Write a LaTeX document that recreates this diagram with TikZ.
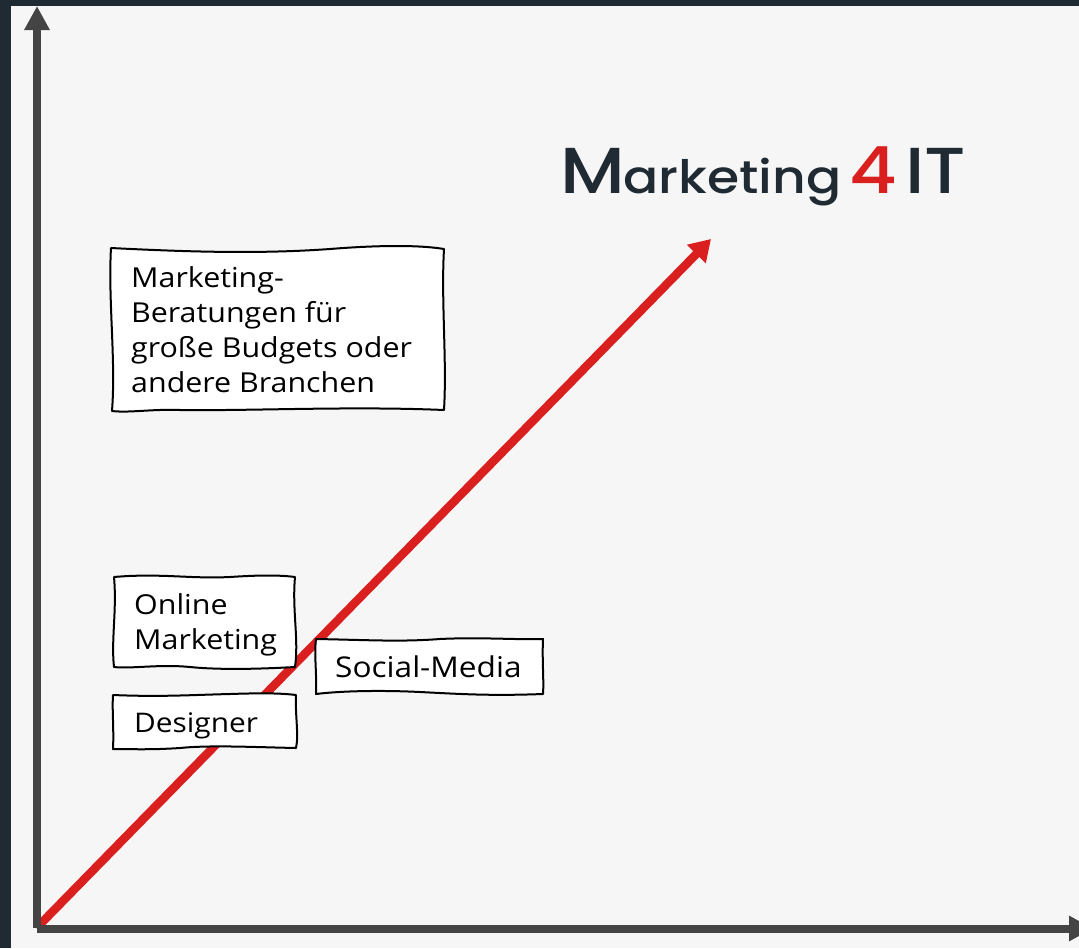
\documentclass[tikz,border=0pt]{standalone}
\usepackage{fontspec}
\setmainfont{Open Sans}[FakeStretch=1.105]
\newfontfamily\logofont{Poppins}[UprightFont=* Medium,FakeStretch=1.13]
\usetikzlibrary{arrows.meta}
\definecolor{frame}{HTML}{1F2A33}
\definecolor{paper}{HTML}{F6F6F6}
\definecolor{axis}{HTML}{444444}
\definecolor{brand}{HTML}{DA1F1F}
\tikzset{
  x=1pt,y=-1pt,
  axisline/.style={draw=axis,line width=8pt,-{Triangle[length=24pt,width=24pt]}},
  growth/.style={draw=brand,line width=8.5pt,-{Triangle[length=21pt,width=25pt]}},
  sketchbox/.style={draw=black,fill=white,line width=2pt,line join=round},
  label/.style={anchor=west,inner sep=0pt,align=left,font=\fontsize{27.5}{35}\selectfont,text=black},
  logo/.style={anchor=base west,inner sep=0pt,text=frame},
}
\begin{document}
\begin{tikzpicture}
\useasboundingbox (0,0) rectangle (1079,948);
\clip (0,0) rectangle (1079,948);
\fill[frame] (0,0) rectangle (1079,948);
\fill[paper] (11,6) rectangle (1079,948);
\coordinate (origin) at (37,928.5);
\coordinate (ytip) at (37,6);
\coordinate (xtip) at (1093,928.5);
\coordinate (gstart) at (36.5,928);
\coordinate (gtip) at (711,239);
\path[growth] (gstart) -- (gtip);
\path[axisline] ([yshift=0.5pt]origin) -- (ytip);
\path[axisline] (origin) -- (xtip);
% big box
\path[sketchbox] (111,248) .. controls (190,252) and (260,254) .. (330,249) .. controls (380,245) and (420,245) .. (444,249)
  .. controls (441,300) and (447,360) .. (444,410)
  .. controls (350,406) and (250,411) .. (180,410) .. controls (150,409) and (130,413) .. (112,411)
  .. controls (116,360) and (108,300) .. (111,248) -- cycle;
\node[label] (consult) at (131,330) {Marketing-\\Beratungen für\\große Budgets oder\\andere Branchen};
% online marketing
\path[sketchbox] (114,577) .. controls (160,573) and (190,579) .. (230,577) .. controls (260,575) and (280,575) .. (295,577)
  .. controls (292,610) and (299,640) .. (295,667)
  .. controls (260,669) and (220,670) .. (190,667) .. controls (160,664) and (130,669) .. (114,667)
  .. controls (111,640) and (117,610) .. (114,577) -- cycle;
\node[label] (online) at (134,625) {Online\\Marketing};
% designer
\path[sketchbox] (113,695) .. controls (160,697) and (190,695) .. (230,694) .. controls (260,693) and (280,693) .. (296,695)
  .. controls (295,715) and (299,735) .. (296,748)
  .. controls (250,747) and (210,745) .. (180,748) .. controls (150,750) and (130,749) .. (113,749)
  .. controls (114,730) and (112,710) .. (113,695) -- cycle;
\node[label,font=\fontsize{27}{35}\selectfont] (designer) at (134,725.5) {Designer};
% social media
\path[sketchbox] (316,639) .. controls (370,640) and (400,642) .. (440,639) .. controls (480,637) and (520,640) .. (543,639)
  .. controls (542,660) and (544,680) .. (543,694)
  .. controls (490,696) and (460,694) .. (420,692) .. controls (380,690) and (340,691) .. (316,694)
  .. controls (317,675) and (314,655) .. (316,639) -- cycle;
\node[label,font=\fontsize{28.6}{35}\selectfont] (social) at (335,667) {Social-Media};
% logo
\node[logo,font=\logofont\fontsize{65}{65}\selectfont] (logoM) at (560,193) {M};
\node[logo,font=\logofont\fontsize{46}{46}\selectfont] (logoR) at (623,193) {arketing};
\node[logo,font=\logofont\fontsize{65}{65}\selectfont,text=brand] (logo4) at (849,193) {4};
\node[logo,font=\logofont\fontsize{65}{65}\selectfont] (logoIT) at (905,193) {IT};
\end{tikzpicture}
\end{document}
